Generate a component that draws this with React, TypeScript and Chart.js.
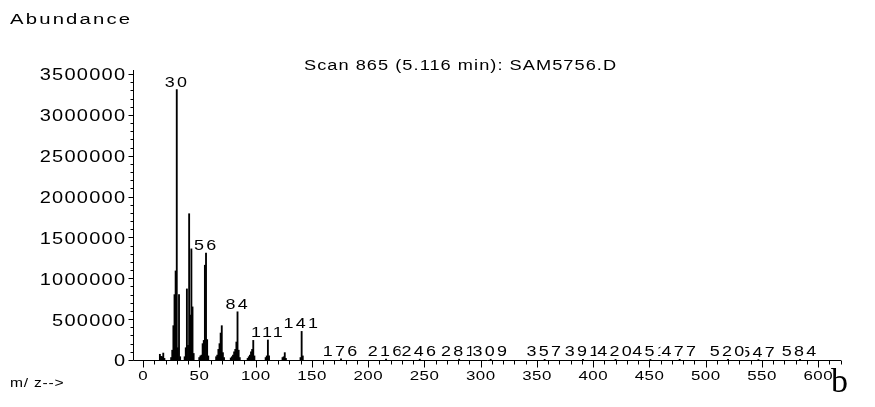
import React, { useEffect, useRef } from 'react';
import { Chart, registerables } from 'chart.js';

Chart.register(...registerables);

// m/z of each peak and its abundance
const mzValues = [
  15, 16, 17, 18, 19,
  25, 26, 27, 28, 29, 30, 31, 32, 33,
  37, 38, 39, 40, 41, 42, 43, 44, 45,
  50, 51, 52, 53, 54, 55, 56, 57, 58,
  65, 66, 67, 68, 69, 70, 71, 72,
  78, 79, 80, 81, 82, 83, 84, 85, 86,
  93, 94, 95, 96, 97, 98, 99,
  109, 110, 111, 112,
  124, 125, 126, 127,
  140, 141, 142,
  176, 216, 246, 281, 309, 357, 391, 420, 451, 477, 520, 547, 584,
];
const abundances = [
  70000, 45000, 40000, 85000, 20000,
  30000, 120000, 420000, 800000, 1090000, 3310000, 150000, 800000, 40000,
  40000, 150000, 870000, 180000, 1790000, 550000, 1360000, 650000, 80000,
  30000, 50000, 60000, 200000, 240000, 1160000, 1310000, 250000, 50000,
  40000, 60000, 130000, 200000, 330000, 420000, 90000, 30000,
  25000, 40000, 60000, 100000, 130000, 220000, 590000, 120000, 30000,
  20000, 40000, 60000, 100000, 130000, 240000, 50000,
  30000, 50000, 245000, 50000,
  30000, 40000, 90000, 20000,
  30000, 350000, 50000,
  15000, 12000, 10000, 10000, 9000, 8000, 8000, 7000, 7000, 8000, 7000, 6000, 7000,
];

// labelled peaks (in drawing order)
const labelledPeaks = [30, 56, 84, 111, 141, 176, 216, 246, 281, 309, 357, 391, 420, 451, 477, 547, 520, 584];

// axis ticks
const xMajorTicks = [0, 50, 100, 150, 200, 250, 300, 350, 400, 450, 500, 550, 600];
const xMinorStep = 10;
const xAxisMin = -8.9;
const xAxisMax = 620.4;
const yMajorTicks = [0, 500000, 1000000, 1500000, 2000000, 2500000, 3000000, 3500000];
const yMinorStep = 100000;
const yAxisMax = 3549000;

const titleText = 'Scan 865 (5.116 min): SAM5756.D';
const yTitle = 'Abundance';
const xTitle = 'm/ z-->';
const panelLetter = 'b';

const SANS = '"Liberation Sans", Arial, sans-serif';

function drawText(
  ctx: CanvasRenderingContext2D,
  text: string,
  x: number,
  y: number,
  align: 'left' | 'center' | 'right',
  font: string,
  ls: number,
  hs: number,
  baseline: CanvasTextBaseline = 'alphabetic',
  eraseBg = false,
) {
  ctx.save();
  ctx.font = font;
  (ctx as any).letterSpacing = ls + 'px';
  ctx.textAlign = 'left';
  ctx.textBaseline = baseline;
  const m = ctx.measureText(text);
  const w = (m.width - ls) * hs;
  let sx = x;
  if (align === 'center') sx = x - w / 2;
  else if (align === 'right') sx = x - w;
  if (eraseBg) {
    ctx.fillStyle = '#fff';
    ctx.fillRect(sx - 1, y - m.actualBoundingBoxAscent - 1, w + 2, m.actualBoundingBoxAscent + 2);
  }
  ctx.translate(sx, y);
  ctx.scale(hs, 1);
  ctx.fillStyle = '#000';
  ctx.fillText(text, 0, 0);
  ctx.restore();
}

const spectrumPlugin = {
  id: 'spectrumDecor',
  beforeDatasetsDraw(chart: any) {
    const { ctx, chartArea, scales } = chart;
    const xs = scales.x;
    const ys = scales.y;
    const { left, right, top, bottom } = chartArea;
    const ax = Math.round(left) + 0.5;
    const ay = Math.round(bottom) + 0.5;
    ctx.save();
    ctx.strokeStyle = '#000';
    ctx.lineWidth = 1;
    ctx.beginPath();
    ctx.moveTo(ax, top);
    ctx.lineTo(ax, ay);
    ctx.moveTo(ax, ay);
    ctx.lineTo(right, ay);
    for (let v = 0; v <= yMajorTicks[yMajorTicks.length - 1]; v += yMinorStep) {
      const py = Math.round(ys.getPixelForValue(v)) + 0.5;
      const len = yMajorTicks.includes(v) ? 5 : 3;
      ctx.moveTo(ax - len, py);
      ctx.lineTo(ax, py);
    }
    for (let v = 0; v <= xAxisMax; v += xMinorStep) {
      const px = Math.round(xs.getPixelForValue(v)) + 0.5;
      const len = xMajorTicks.includes(v) ? 7 : 4;
      ctx.moveTo(px, ay);
      ctx.lineTo(px, ay + len);
    }
    ctx.stroke();
    ctx.restore();

    yMajorTicks.forEach((v) => {
      const py = ys.getPixelForValue(v);
      drawText(ctx, String(v), left - 8, py + 2, 'right', `16px ${SANS}`, 1, 1.25, 'middle');
    });
    xMajorTicks.forEach((v) => {
      const px = xs.getPixelForValue(v);
      drawText(ctx, String(v), px, bottom + 16, 'center', `13px ${SANS}`, 0.4, 1.3, 'middle');
    });

    drawText(ctx, yTitle, 10, 24, 'left', `14px ${SANS}`, 1.5, 1.45);
    drawText(ctx, titleText, 460, 70, 'center', `14px ${SANS}`, 0.8, 1.3);
    drawText(ctx, xTitle, 10, 387, 'left', `12px ${SANS}`, 0.6, 1.3);
    ctx.save();
    ctx.font = `34px "Liberation Serif", "Times New Roman", serif`;
    ctx.fillStyle = '#000';
    ctx.textBaseline = 'alphabetic';
    ctx.fillText(panelLetter, 831, 392);
    ctx.restore();
  },
  afterDatasetsDraw(chart: any) {
    const { ctx, scales } = chart;
    const xs = scales.x;
    const ys = scales.y;
    labelledPeaks.forEach((mz) => {
      const idx = mzValues.indexOf(mz);
      const ab = idx >= 0 ? abundances[idx] : 0;
      const px = xs.getPixelForValue(mz);
      const py = ys.getPixelForValue(ab);
      drawText(ctx, String(mz), px - 1, py - 3, 'center', `14px ${SANS}`, 1.8, 1.28, 'alphabetic', true);
    });
  },
};

export default function App() {
  const canvasRef = useRef<HTMLCanvasElement | null>(null);

  useEffect(() => {
    if (!canvasRef.current) return;
    const chart = new Chart(canvasRef.current, {
      type: 'bar',
      data: {
        datasets: [
          {
            data: mzValues.map((m, i) => ({ x: m, y: abundances[i] })),
            backgroundColor: '#000',
            borderWidth: 0,
            barThickness: 1.2,
          },
        ],
      },
      options: {
        animation: false,
        responsive: true,
        maintainAspectRatio: false,
        devicePixelRatio: 1,
        layout: { padding: { left: 133, right: 34, top: 70, bottom: 47 } },
        plugins: { legend: { display: false }, tooltip: { enabled: false }, title: { display: false } },
        scales: {
          x: { type: 'linear', display: false, min: xAxisMin, max: xAxisMax, offset: false },
          y: { type: 'linear', display: false, min: 0, max: yAxisMax },
        },
      } as any,
      plugins: [spectrumPlugin],
    });
    return () => chart.destroy();
  }, []);

  return (
    <div style={{ position: 'fixed', left: 0, top: 0, width: 875, height: 407, background: '#fff' }}>
      <canvas ref={canvasRef} />
    </div>
  );
}
